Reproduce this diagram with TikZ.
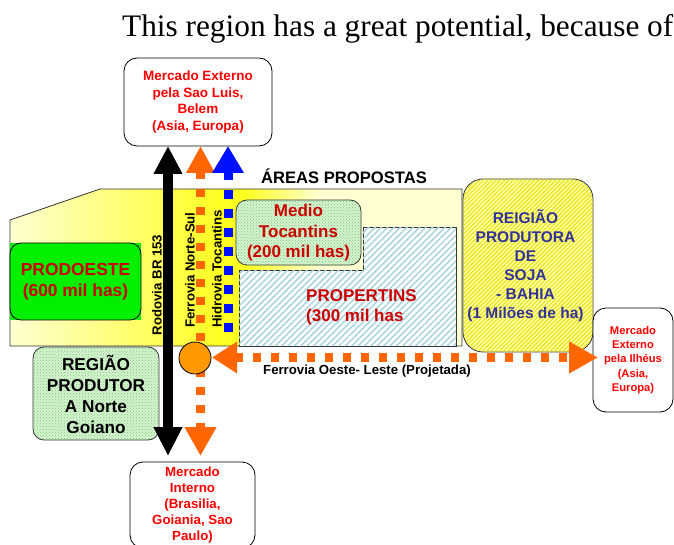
\documentclass[tikz,border=0pt]{standalone}
\usepackage{fontspec}
\setmainfont{Liberation Serif}
\newfontfamily\arialfont{Liberation Sans}
\usetikzlibrary{arrows.meta,patterns,patterns.meta}

\definecolor{paleY}{HTML}{FFFFD2}
\definecolor{brightY}{HTML}{FFFF22}
\definecolor{prodGreen}{HTML}{00F000}
\definecolor{darkRed}{HTML}{CC0000}
\definecolor{mktRed}{HTML}{FF0000}
\definecolor{sojaBlue}{HTML}{333399}
\definecolor{railOrange}{HTML}{FF6600}
\definecolor{hubOrange}{HTML}{FF9900}
\definecolor{waterBlue}{HTML}{0011FF}
\definecolor{checkGreen}{HTML}{D6F2D0}
\definecolor{checkDot}{HTML}{7ACC7A}
\definecolor{hatchBlue}{HTML}{A6D2DE}
\definecolor{sojaFill}{HTML}{FFFFA8}
\definecolor{sojaLine}{HTML}{E8E000}
\definecolor{edgeGrey}{HTML}{333333}

\tikzset{
  sans/.style 2 args={font=\arialfont\bfseries\fontsize{#1}{#2}\selectfont},
  mktbox/.style={draw=black, line width=0.8pt, fill=white, rounded corners=13pt,
    align=center, text=mktRed, inner sep=0pt},
  checkbox/.style={draw=edgeGrey, line width=0.8pt, rounded corners=11pt,
    fill=checkGreen, align=center, inner sep=0pt},
  roadline/.style={line width=10pt, draw=black},
  raildash/.style={line width=9pt, draw=railOrange, dash pattern=on 8pt off 10pt},
  waterdash/.style={line width=9pt, draw=waterBlue, dash pattern=on 9pt off 10pt},
  vlabel/.style={sans={13.2}{16}, rotate=90, inner sep=0pt},
}

\begin{document}
\begin{tikzpicture}[x=1pt,y=-1pt]
\useasboundingbox (0,0) rectangle (674,545);

% heading
\node[anchor=base west, inner sep=0pt, font=\fontsize{31.3}{32}\selectfont]
  (title) at (122,37) {This region has a great potential, because of};

% proposed areas: yellow base region with a soft gradient
\begin{scope}
  \clip (10,220) -- (100,189) -- (462,189) -- (462,346) -- (10,346) -- cycle;
  \shade[left color=paleY, right color=brightY] (10,185) rectangle (222,350);
  \fill[brightY] (221,185) rectangle (246,350);
  \shade[left color=brightY, right color=paleY] (245,185) rectangle (320,350);
  \fill[paleY] (319,185) rectangle (466,350);
\end{scope}
\draw[edgeGrey, line width=0.8pt] (10,346) -- (10,220) -- (100,189) -- (462,189) -- (462,346) -- cycle;
\node[sans={16.6}{19}, anchor=base, inner sep=0pt] (areas) at (344,184) {ÁREAS PROPOSTAS};

% PRODOESTE
\fill[prodGreen] (10,243) rectangle (141,320);
\node[draw=black, line width=0.8pt, rounded corners=11pt, minimum width=131pt,
  minimum height=77pt, align=center, text=darkRed, sans={17.4}{21}, inner sep=0pt]
  (prodoeste) at (75.5,281.5) {PRODOESTE\\(600 mil has)};

% PROPERTINS hatched block
\filldraw[fill=white, draw=edgeGrey, line width=0.7pt]
  (239,346) -- (239,270) -- (363,270) -- (363,227) -- (456,227) -- (456,346) -- cycle;
\fill[pattern={Lines[angle=45,distance=4.5pt,line width=1.4pt]}, pattern color=hatchBlue]
  (239,346) -- (239,270) -- (363,270) -- (363,227) -- (456,227) -- (456,346) -- cycle;
\node[sans={17}{20}, text=darkRed, align=left, anchor=west, inner sep=0pt]
  (propertins) at (306,307) {PROPERTINS\\(300 mil has};

% Medio Tocantins
\node[checkbox, minimum width=125pt, minimum height=65pt] (medioBg) at (298.5,232.5) {};
\fill[pattern=crosshatch dots, pattern color=checkDot, rounded corners=11pt]
  (236,200) rectangle (361,265);
\node[sans={17}{20.5}, text=darkRed, align=center, inner sep=0pt] (medio) at (298.5,233)
  {Medio\\Tocantins\\(200 mil has)};

% Bahia soy region
\node[draw=edgeGrey, line width=0.8pt, fill=sojaFill, rounded corners=20pt,
  minimum width=130pt, minimum height=173pt] (sojaBg) at (528,265.5) {};
\fill[pattern={Lines[angle=45,distance=3pt,line width=1pt]}, pattern color=sojaLine,
  rounded corners=20pt] (463.5,179.5) rectangle (592.5,351.5);
\node[sans={15.5}{19}, text=sojaBlue, align=center, inner sep=0pt] (soja) at (525.5,265.5)
  {REIGIÃO\\PRODUTORA\\DE\\SOJA\\- BAHIA\\(1 Milões de ha)};

% Norte Goiano
\node[checkbox, minimum width=126pt, minimum height=93pt] (goianoBg) at (96,393.5) {};
\fill[pattern=crosshatch dots, pattern color=checkDot, rounded corners=11pt]
  (33,347) rectangle (159,440);
\node[sans={17.2}{21}, align=center, inner sep=0pt] (goiano) at (96,394)
  {REGIÃO\\PRODUTOR\\A Norte\\Goiano};

% markets
\node[mktbox, sans={13.5}{16.7}, minimum width=148pt, minimum height=88pt] (mktNorth) at (198,102)
  {Mercado Externo\\pela Sao Luis,\\Belem\\(Asia, Europa)};
\node[mktbox, sans={11.2}{14.2}, minimum width=80pt, minimum height=104pt] (mktEast) at (633,360)
  {Mercado\\Externo\\pela Ilhéus\\(Asia,\\Europa)};
\node[mktbox, sans={13.3}{16}, minimum width=125pt, minimum height=86pt] (mktSouth) at (192.5,505)
  {Mercado\\Interno\\(Brasilia,\\Goiania, Sao\\Paulo)};

% transport corridors
\coordinate (roadN) at (168,146);
\coordinate (roadS) at (168,456);
\coordinate (railN) at (200.5,146);
\coordinate (railS) at (200.5,456);
\coordinate (waterN) at (228,146);
\coordinate (waterS) at (228,333);
\coordinate (railW) at (212,357.5);
\coordinate (railE) at (598,357.5);

\draw[roadline, {Triangle[length=28pt,width=27pt]}-{Triangle[length=29pt,width=27pt]}]
  (roadN) -- (roadS);
\draw[raildash, {Triangle[length=27pt,width=27pt]}-{Triangle[length=29pt,width=30pt]}]
  (railN) -- (railS);
\draw[waterdash, {Triangle[length=27pt,width=30pt]}-] (waterN) -- (waterS);
\draw[raildash, {Triangle[length=25pt,width=30pt]}-{Triangle[length=29pt,width=30pt]}]
  (railW) -- (railE);

\node[draw=black, line width=0.8pt, fill=hubOrange, circle, minimum size=32pt,
  inner sep=0pt] (hub) at (195,358) {};

\node[vlabel] (road) at (157,285) {Rodovia BR 153};
\node[vlabel] (railNS) at (190,270) {Ferrovia Norte-Sul};
\node[vlabel] (water) at (217,269) {Hidrovia Tocantins};
\node[sans={13.2}{15}, inner sep=0pt] (railEW) at (367,371) {Ferrovia Oeste- Leste (Projetada)};
\end{tikzpicture}
\end{document}
